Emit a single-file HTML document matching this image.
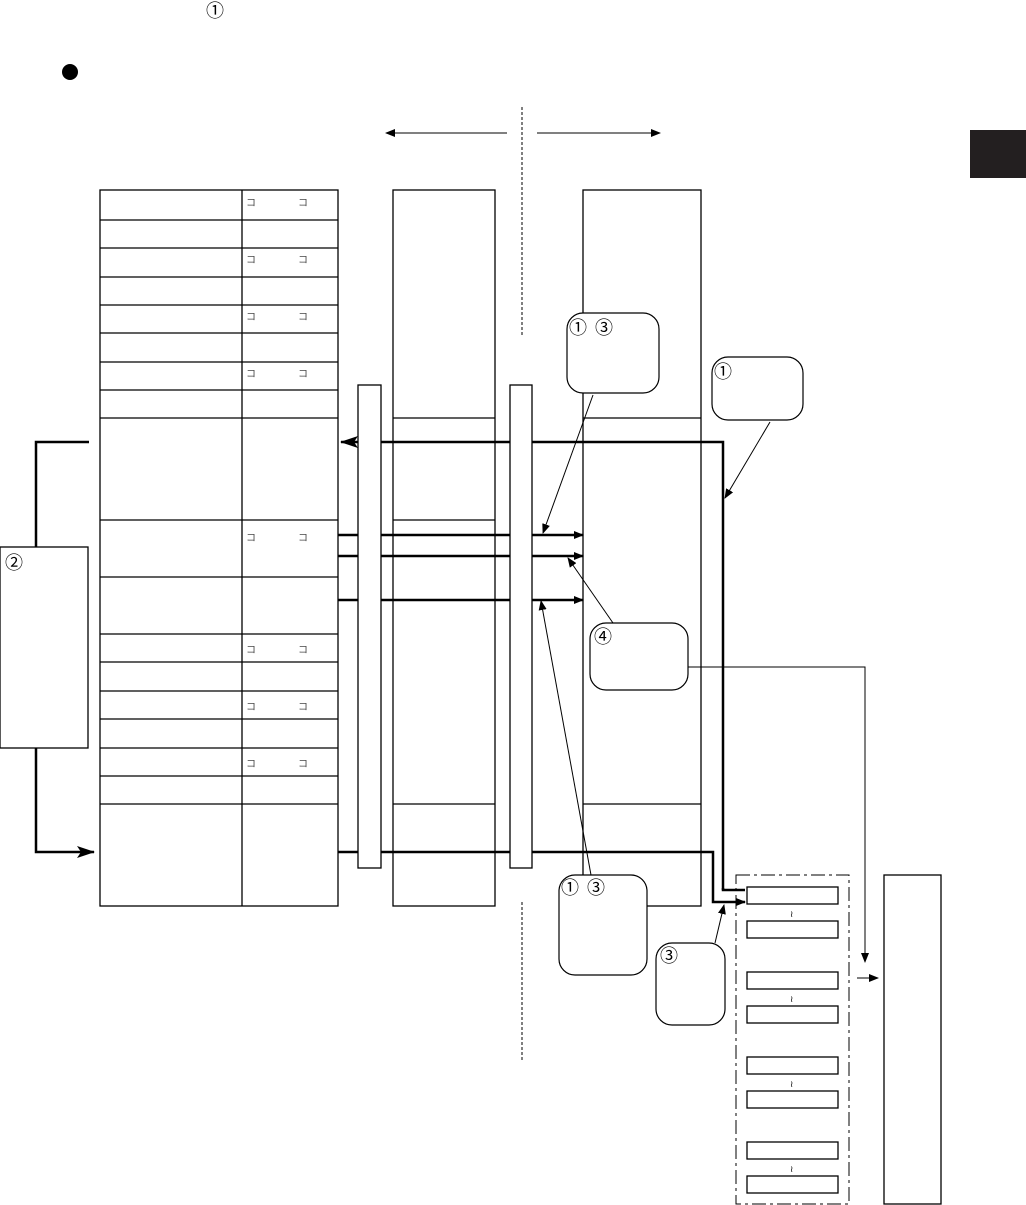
<!DOCTYPE html>
<html><head><meta charset="utf-8"><style>
html,body{margin:0;padding:0;background:#fff;}
svg{display:block;font-family:"Liberation Sans","Noto Sans CJK JP",sans-serif;}
</style></head><body>
<svg width="1026" height="1205" viewBox="0 0 1026 1205" xmlns="http://www.w3.org/2000/svg">
<defs>
<marker id="a" markerWidth="10" markerHeight="8" refX="9" refY="4" orient="auto" markerUnits="userSpaceOnUse"><path d="M0,0 L10,4 L0,8 z" fill="#000"/></marker>
<marker id="b" markerWidth="18" markerHeight="12" refX="17" refY="6" orient="auto" markerUnits="userSpaceOnUse"><path d="M0,0 L18,6 L0,12 L4,6 z" fill="#000"/></marker>
</defs>
<text x="206" y="17" font-size="18" font-family="'Noto Sans CJK JP',sans-serif">①</text>
<circle cx="70" cy="72" r="8" fill="#000"/>
<rect x="970" y="130" width="56" height="48" fill="#231f20"/>
<g stroke="#000" stroke-width="1" fill="none">
<line x1="522" y1="107" x2="522" y2="335" stroke-dasharray="3,2"/>
<line x1="522" y1="902" x2="522" y2="1062" stroke-dasharray="3,2"/>
<line x1="507" y1="133" x2="386" y2="133" marker-end="url(#a)"/>
<line x1="537" y1="133" x2="660" y2="133" marker-end="url(#a)"/>
</g>
<g stroke="#000" stroke-width="1.3" fill="#fff">
<rect x="100" y="190" width="238" height="716"/>
<line x1="242" y1="190" x2="242" y2="906"/>
<path d="M100 220H338M100 248H338M100 277H338M100 305H338M100 333H338M100 362H338M100 390H338M100 418H338M100 520H338M100 577H338M100 634H338M100 662H338M100 691H338M100 719H338M100 748H338M100 776H338M100 804H338"/>
<rect x="393" y="190" width="102" height="716"/>
<path d="M393 418H495M393 520H495M393 804H495"/>
<rect x="583" y="190" width="118" height="716"/>
<path d="M583 418H701M583 804H701"/>
<rect x="0" y="547" width="88" height="201"/>
</g>
<g font-size="10" fill="#444">
<text x="246" y="206">コ</text><text x="298" y="206">コ</text>
<text x="246" y="263">コ</text><text x="298" y="263">コ</text>
<text x="246" y="320">コ</text><text x="298" y="320">コ</text>
<text x="246" y="377">コ</text><text x="298" y="377">コ</text>
<text x="246" y="541">コ</text><text x="298" y="541">コ</text>
<text x="246" y="653">コ</text><text x="298" y="653">コ</text>
<text x="246" y="710">コ</text><text x="298" y="710">コ</text>
<text x="246" y="767">コ</text><text x="298" y="767">コ</text>
</g>
<g stroke="#000" stroke-width="2.5" fill="none">
<path d="M723 890V442H341" marker-end="url(#b)"/>
<path d="M89 442H36V547"/>
<path d="M36 748V852H94" marker-end="url(#b)"/>
<path d="M338 852H713V902H745" marker-end="url(#a)"/>
<path d="M723 888V890H745"/>
<path d="M338 535H583" marker-end="url(#a)"/>
<path d="M338 556H583" marker-end="url(#a)"/>
<path d="M338 600H583" marker-end="url(#a)"/>
</g>
<g stroke="#000" stroke-width="1.3" fill="#fff">
<rect x="358" y="385" width="23" height="483"/>
<rect x="510" y="385" width="22" height="483"/>
</g>
<g stroke="#000" stroke-width="1.2" fill="#fff">
<rect x="567" y="313" width="92" height="80" rx="16"/>
<rect x="712" y="357" width="91" height="63" rx="16"/>
<rect x="590" y="623" width="98" height="67" rx="16"/>
<rect x="559" y="875" width="88" height="100" rx="16"/>
<rect x="656" y="943" width="69" height="82" rx="16"/>
</g>
<g stroke="#000" stroke-width="1" fill="none">
<line x1="593" y1="395" x2="543" y2="533" marker-end="url(#a)"/>
<line x1="770" y1="422" x2="725" y2="498" marker-end="url(#a)"/>
<line x1="613" y1="623" x2="568" y2="558" marker-end="url(#a)"/>
<line x1="591" y1="875" x2="541" y2="601" marker-end="url(#a)"/>
<line x1="647" y1="906" x2="701" y2="906"/>
<line x1="715" y1="943" x2="724" y2="905" marker-end="url(#a)"/>
<path d="M688 667H865V962" marker-end="url(#a)"/>
<line x1="857" y1="978" x2="878" y2="978" marker-end="url(#a)"/>
<rect x="736" y="875" width="113" height="329" stroke-dasharray="14,4,3,4"/>
<rect x="884" y="875" width="57" height="329" stroke-width="1.3"/>
<g stroke-width="1.3">
<rect x="747" y="887" width="91" height="17"/><rect x="747" y="921" width="91" height="17"/>
<rect x="747" y="972" width="91" height="17"/><rect x="747" y="1006" width="91" height="17"/>
<rect x="747" y="1057" width="91" height="17"/><rect x="747" y="1091" width="91" height="17"/>
<rect x="747" y="1142" width="91" height="17"/><rect x="747" y="1176" width="91" height="17"/>
</g>
</g>
<g font-size="9" fill="#000">
<text x="790" y="917">≀</text><text x="790" y="1002">≀</text><text x="790" y="1087">≀</text><text x="790" y="1172">≀</text>
</g>
<g font-size="18" fill="#000" font-family="'Noto Sans CJK JP',sans-serif">
<text x="569" y="334">①</text><text x="595" y="334">③</text>
<text x="714" y="378">①</text>
<text x="594" y="643">④</text>
<text x="561" y="894">①</text><text x="587" y="894">③</text>
<text x="660" y="962">③</text>
<text x="5" y="569">②</text>
</g>
</svg>
</body></html>
